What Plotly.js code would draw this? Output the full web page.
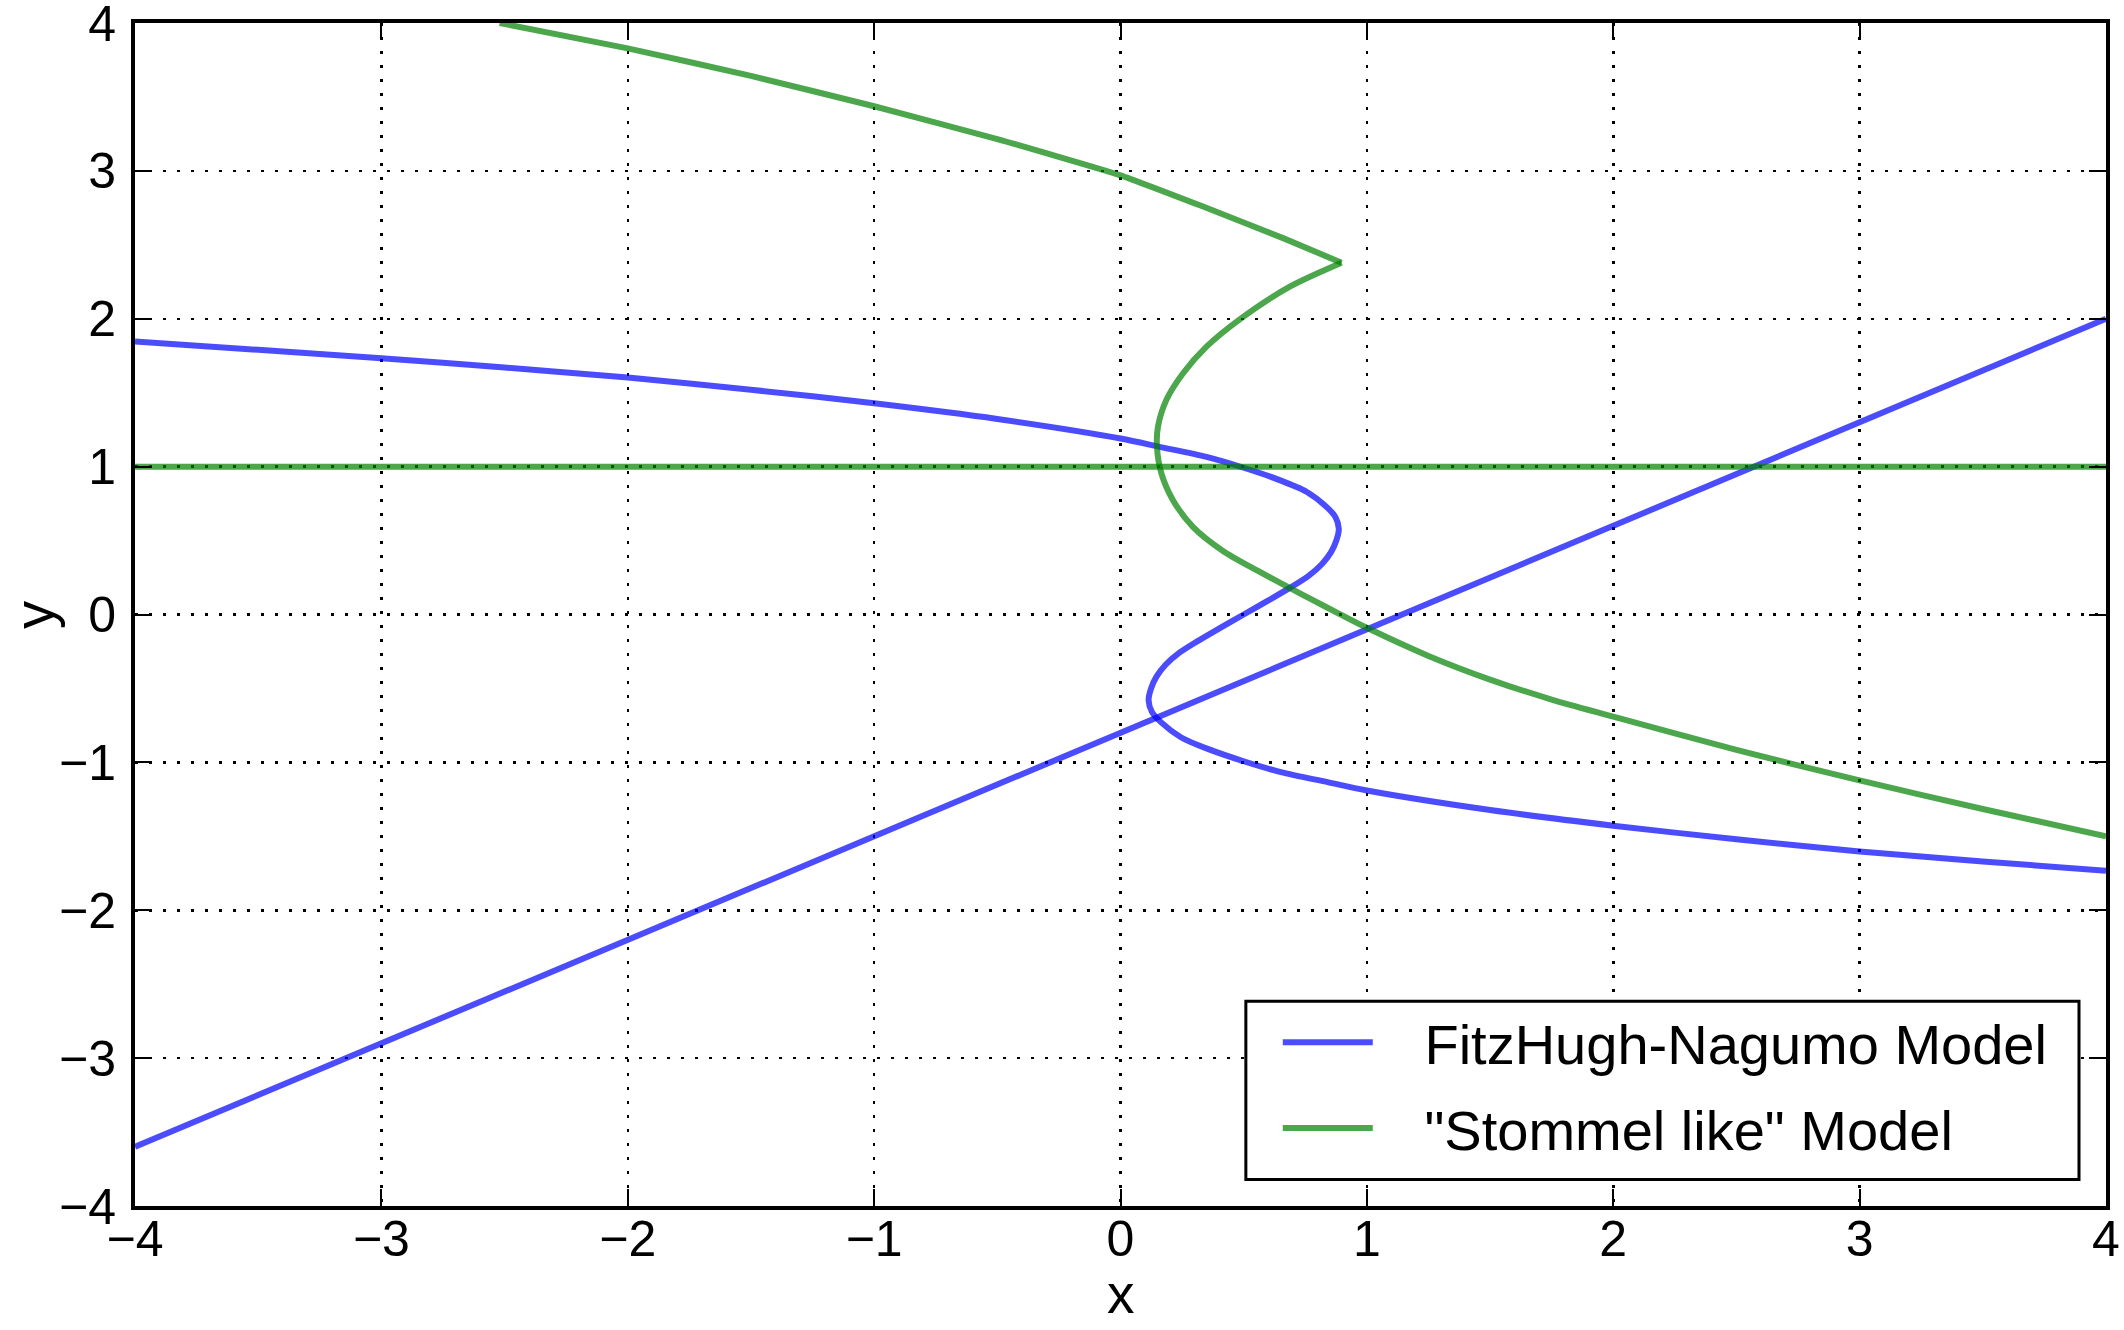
<!DOCTYPE html>
<html>
<head>
<meta charset="utf-8">
<script src="https://cdn.plot.ly/plotly-3.0.1.min.js"></script>
<style>
  html, body { margin: 0; padding: 0; background: #fff; }
  #chart { width: 2124px; height: 1330px; }
</style>
</head>
<body>
<div id="chart"></div>
<script>
// FitzHugh-Nagumo: S-shaped nullcline and straight nullcline
let fhnCurveX = [-4, -3.5, -3, -2.5, -2, -1.5, -1, -0.5, 0, 0.159, 0.349, 0.497, 0.646, 0.755, 0.836, 0.872,
    0.886, 0.876, 0.854, 0.817, 0.762, 0.687, 0.595, 0.50, 0.405, 0.313, 0.238, 0.183, 0.146, 0.124,
    0.114, 0.128, 0.164, 0.245, 0.354, 0.503, 0.651, 0.841, 1.0, 1.5, 2, 2.5, 3, 3.5, 4];
let fhnCurveY = [1.846, 1.79, 1.733, 1.67, 1.602, 1.52, 1.428, 1.322, 1.19, 1.134, 1.066, 0.994, 0.909, 0.83, 0.728, 0.66,
    0.58, 0.50, 0.42, 0.34, 0.26, 0.18, 0.09, 0.0, -0.09, -0.18, -0.26, -0.34, -0.42, -0.50,
    -0.58, -0.66, -0.728, -0.83, -0.909, -0.994, -1.066, -1.134, -1.19, -1.322, -1.428, -1.52, -1.602, -1.67, -1.733];
let fhnLineX = [-4, 4];
let fhnLineY = [-3.6, 2.0];

// "Stommel like": upper branch up to the cusp, lower branch from the cusp, and y = 1
let stomUpperX = [-2.52, -2, -1.5, -1, -0.5, 0, 0.33, 0.66, 0.897];
let stomUpperY = [4.0, 3.828, 3.642, 3.437, 3.215, 2.97, 2.762, 2.545, 2.379];
let stomLowerX = [0.897, 0.687, 0.484, 0.349, 0.254, 0.186, 0.152, 0.148, 0.166, 0.213, 0.294, 0.416, 0.552,
    0.687, 0.781, 0.89, 1.0, 1.25, 1.5, 1.75, 2.0, 2.5, 3.0, 3.5, 4.0];
let stomLowerY = [2.379, 2.217, 1.996, 1.811, 1.631, 1.45, 1.269, 1.134, 0.954, 0.773, 0.593, 0.43, 0.30,
    0.18, 0.097, 0.003, -0.09, -0.28, -0.44, -0.575, -0.69, -0.915, -1.122, -1.315, -1.5];
let stomLineX = [-4, 4];
let stomLineY = [1, 1];

let tickVals = [-4, -3, -2, -1, 0, 1, 2, 3, 4];
let tickText = ['\u22124', '\u22123', '\u22122', '\u22121', '0', '1', '2', '3', '4'];
let legendNames = ['FitzHugh-Nagumo Model', '"Stommel like" Model'];

let blue = 'rgba(0,0,255,0.7)';
let green = 'rgba(0,128,0,0.7)';
let lw = 6;
let pad = '\u00a0\u00a0\u00a0';
let fontFamily = 'Liberation Sans, Arial, sans-serif';

let data = [
    {x: fhnCurveX, y: fhnCurveY, mode: 'lines', line: {color: blue, width: lw, shape: 'spline', smoothing: 0.8},
        name: pad + legendNames[0], legendgroup: 'fhn'},
    {x: fhnLineX, y: fhnLineY, mode: 'lines', line: {color: blue, width: lw},
        legendgroup: 'fhn', showlegend: false},
    {x: stomUpperX, y: stomUpperY, mode: 'lines', line: {color: green, width: lw, shape: 'spline', smoothing: 0.4},
        name: pad + legendNames[1], legendgroup: 'stom'},
    {x: stomLowerX, y: stomLowerY, mode: 'lines', line: {color: green, width: lw, shape: 'spline', smoothing: 0.8},
        legendgroup: 'stom', showlegend: false},
    {x: stomLineX, y: stomLineY, mode: 'lines', line: {color: green, width: lw},
        legendgroup: 'stom', showlegend: false}
];

let axisStyle = {
    range: [-4, 4],
    tickvals: tickVals,
    ticktext: tickText,
    ticks: 'inside',
    ticklen: 17,
    tickwidth: 2,
    tickcolor: '#000',
    showline: true,
    linecolor: '#000',
    linewidth: 4,
    mirror: 'ticks',
    showgrid: true,
    gridcolor: '#000',
    gridwidth: 2.5,
    griddash: '3px,11px',
    zeroline: false,
    ticklabeloverflow: 'allow',
    tickfont: {family: fontFamily, size: 50, color: '#000'},
    automargin: false
};

let layout = {
    width: 2124,
    height: 1330,
    margin: {l: 135, r: 18, t: 23, b: 124},
    paper_bgcolor: '#fff',
    plot_bgcolor: '#fff',
    font: {family: fontFamily, color: '#000'},
    showlegend: true,
    xaxis: Object.assign({}, axisStyle, {ticklabelstandoff: -14}),
    yaxis: Object.assign({}, axisStyle, {ticklabelstandoff: 5}),
    // axis titles as annotations: plotly clamps axis titles inside the margins
    annotations: [
        {text: 'x', xref: 'paper', yref: 'paper', x: 0.5, y: -0.0745,
            xanchor: 'center', yanchor: 'middle', showarrow: false, font: {size: 55, color: '#000'}},
        {text: 'y', xref: 'paper', yref: 'paper', x: -0.0515, y: 0.5, textangle: -90,
            xanchor: 'center', yanchor: 'middle', showarrow: false, font: {size: 56, color: '#000'}}
    ],
    // legend frame drawn as a shape so it can match the reference box
    shapes: [{
        type: 'rect', xref: 'paper', yref: 'paper',
        x0: 0.5636, x1: 0.9863, y0: 0.0225, y1: 0.1730,
        fillcolor: '#fff', line: {color: '#000', width: 3}, layer: 'above'
    }],
    legend: {
        x: 0.5798, y: 0.102, xanchor: 'left', yanchor: 'middle',
        bgcolor: 'rgba(0,0,0,0)', borderwidth: 0,
        font: {size: 56, color: '#000'},
        itemwidth: 90
    }
};

Plotly.newPlot('chart', data, layout, {displayModeBar: false, staticPlot: true});
</script>
</body>
</html>
